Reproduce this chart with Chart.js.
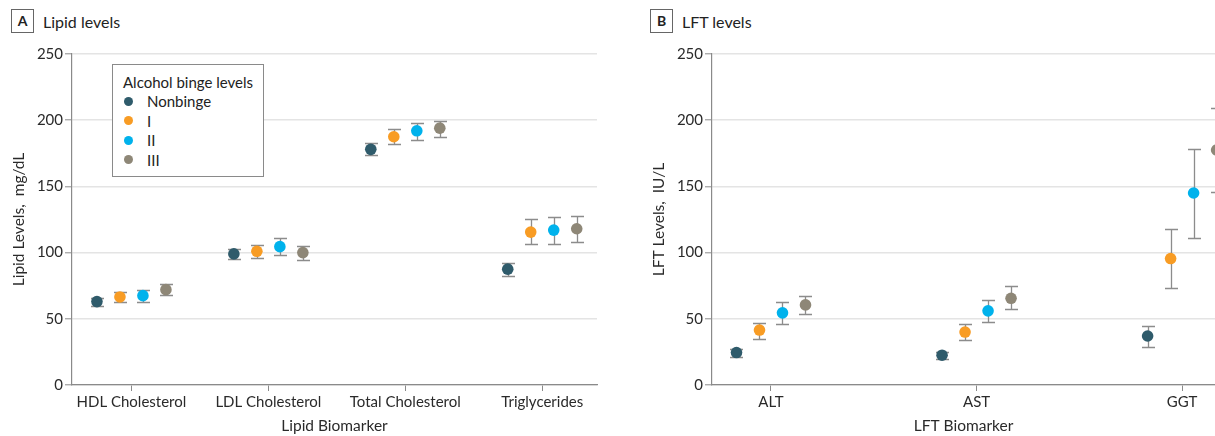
<!DOCTYPE html>
<html>
<head>
<meta charset="utf-8">
<script src="https://cdn.jsdelivr.net/npm/chart.js@4/dist/chart.umd.min.js"></script>
<style>
  html, body { margin: 0; padding: 0; background: #fff; }
  body { width: 1215px; height: 436px; position: relative; overflow: hidden; font-family: Lato, "Open Sans", sans-serif; color: #222; }
  .panel { position: absolute; top: 0; height: 436px; }
  .ptitle { position: absolute; top: 9px; height: 24px; display: flex; align-items: center; font-size: 16px; color: #222; }
  .tag { display: inline-block; width: 21px; height: 22px; border: 1px solid #666; font-weight: bold; font-size: 14px; text-align: center; line-height: 22px; margin-right: 9px; }
  .legend { position: absolute; left: 112px; top: 64px; width: 150px; height: 111px; border: 1px solid #8a8a8a; background: #fff; font-size: 15px; color: #222; }
  .legend .row { position: absolute; left: 0; height: 18px; line-height: 18px; white-space: nowrap; }
  .legend .dot { position: absolute; left: 11px; top: 4.5px; width: 9px; height: 9px; border-radius: 50%; }
  .legend .lab { position: absolute; left: 34px; top: 0; }
</style>
</head>
<body>

<div class="ptitle" style="left:11px"><span class="tag">A</span>Lipid levels</div>
<div class="ptitle" style="left:650px"><span class="tag">B</span>LFT levels</div>

<div class="panel" style="left:0; width:607px;"><canvas id="lipidChart"></canvas></div>
<div class="panel" style="left:640px; width:575px;"><canvas id="lftChart"></canvas></div>

<div class="legend" id="legend"></div>

<script>
// Binge levels and their colours
const levels = ['Nonbinge', 'I', 'II', 'III'];
const levelColors = ['#2f5b6b', '#f89c24', '#00b2ec', '#8e8777'];

// Panel A: lipid biomarkers (mg/dL), mean with lower / upper bounds
const lipidCategories = ['HDL Cholesterol', 'LDL Cholesterol', 'Total Cholesterol', 'Triglycerides'];
const lipidNonbinge      = [63,   99,    178,   87.5];
const lipidNonbingeLower = [60,   95,    174,   82.5];
const lipidNonbingeUpper = [65.5, 102.5, 183,   92.5];
const lipidI             = [66.5, 101,   187.5, 115.5];
const lipidILower        = [62.5, 96,    182,   106.5];
const lipidIUpper        = [70,   106,   193,   125.5];
const lipidII            = [67.5, 104.5, 192,   117];
const lipidIILower       = [62.5, 98.5,  185,   106.5];
const lipidIIUpper       = [71.5, 111,   198,   127];
const lipidIII           = [72,   100,   194,   118];
const lipidIIILower      = [68,   94.5,  187.5, 108];
const lipidIIIUpper      = [76,   105,   199.5, 128];

// Panel B: liver function tests (IU/L)
const lftCategories = ['ALT', 'AST', 'GGT'];
const lftNonbinge      = [24.5, 22.5, 37];
const lftNonbingeLower = [21.5, 20,   29];
const lftNonbingeUpper = [27.5, 25,   44.5];
const lftI             = [41.5, 40,   95.5];
const lftILower        = [35,   34,   73.5];
const lftIUpper        = [47,   46,   117.5];
const lftII            = [54.5, 56,   145];
const lftIILower       = [46,   47.5, 111];
const lftIIUpper       = [62.5, 64.5, 178];
const lftIII           = [60.5, 65.5, 177.5];
const lftIIILower      = [53.5, 57.5, 146];
const lftIIIUpper      = [67,   74.5, 209];

const yTicks = [0, 50, 100, 150, 200, 250];

const DODGE_PX = 23;     // horizontal spacing between binge levels inside a category
const CAP_HALF = 6.5;    // half width of error-bar caps
const FONT = 'Lato, "Open Sans", sans-serif';
const TEXT = '#2a2a2a';
const AXIS = '#8a8a8a';

// legend
const legendEl = document.getElementById('legend');
legendEl.innerHTML =
  '<div class="row" style="top:8px;left:10px">Alcohol binge levels</div>' +
  levels.map((l, k) =>
    `<div class="row" style="top:${27 + k * 19.5}px;width:140px">` +
    `<span class="dot" style="background:${levelColors[k]}"></span><span class="lab">${l}</span></div>`
  ).join('');

// shifts each binge level sideways and draws its interval whiskers
const dodgeErrorPlugin = {
  id: 'dodgeError',
  afterDatasetsUpdate(chart) {
    chart.data.datasets.forEach((ds, k) => {
      chart.getDatasetMeta(k).data.forEach(pt => { pt.x += (k - 1.5) * DODGE_PX; });
    });
  },
  beforeDatasetsDraw(chart) {
    const ctx = chart.ctx, ys = chart.scales.y;
    ctx.save();
    ctx.strokeStyle = '#8c8c8c';
    ctx.lineWidth = 1.3;
    chart.data.datasets.forEach((ds, k) => {
      chart.getDatasetMeta(k).data.forEach((pt, i) => {
        const x = Math.round(pt.x) + 0.5;
        const lo = Math.round(ys.getPixelForValue(ds.lower[i])) + 0.5;
        const hi = Math.round(ys.getPixelForValue(ds.upper[i])) + 0.5;
        ctx.beginPath();
        ctx.moveTo(x, lo); ctx.lineTo(x, hi);
        ctx.moveTo(x - CAP_HALF, lo); ctx.lineTo(x + CAP_HALF, lo);
        ctx.moveTo(x - CAP_HALF, hi); ctx.lineTo(x + CAP_HALF, hi);
        ctx.stroke();
      });
    });
    ctx.restore();
  }
};

function makeDatasets(series) {
  return series.map((s, k) => ({
    label: levels[k],
    data: s.mean.map((v, i) => ({ x: i + 1, y: v })),
    lower: s.lower,
    upper: s.upper,
    backgroundColor: levelColors[k],
    borderColor: levelColors[k],
    borderWidth: 0,
    pointRadius: 5.8,
    pointHoverRadius: 5.8,
    clip: false
  }));
}

function makeChart(id, cats, series, xMin, xMax, xTitle, yTitle, rightPad) {
  return new Chart(document.getElementById(id), {
    type: 'scatter',
    data: { datasets: makeDatasets(series) },
    plugins: [dodgeErrorPlugin],
    options: {
      responsive: true,
      maintainAspectRatio: false,
      animation: false,
      events: [],
      layout: { autoPadding: false, padding: { top: 54, right: rightPad, bottom: 0, left: 0 } },
      plugins: { legend: { display: false }, tooltip: { enabled: false } },
      scales: {
        x: {
          type: 'linear',
          min: xMin,
          max: xMax,
          afterBuildTicks: s => { s.ticks = cats.map((c, i) => ({ value: i + 1 })); },
          afterFit: s => { s.height = 51; s.paddingLeft = 0; s.paddingRight = 0; },
          ticks: {
            autoSkip: false, maxRotation: 0, padding: 2,
            color: TEXT, font: { family: FONT, size: 15 },
            callback: (v, i) => cats[i]
          },
          grid: { drawOnChartArea: false, drawTicks: true, tickLength: 6, tickColor: AXIS, tickWidth: 1 },
          border: { color: AXIS, width: 1.2 },
          title: { display: true, text: xTitle, color: TEXT, font: { family: FONT, size: 15.5 }, padding: { top: 0, bottom: 1 } }
        },
        y: {
          min: 0,
          max: 250,
          afterBuildTicks: s => { s.ticks = yTicks.map(v => ({ value: v })); },
          afterFit: s => { s.width = 72; s.paddingTop = 0; s.paddingBottom = 0; },
          ticks: { padding: 2, color: TEXT, font: { family: FONT, size: 15 } },
          grid: { color: '#e4e4e4', lineWidth: 1.6, tickLength: 7, tickColor: AXIS, tickWidth: 1 },
          border: { color: AXIS, width: 1.2 },
          title: { display: true, text: yTitle, color: TEXT, font: { family: FONT, size: 15.5 }, padding: { top: 10, bottom: 0 } }
        }
      }
    }
  });
}

makeChart('lipidChart', lipidCategories, [
  { mean: lipidNonbinge, lower: lipidNonbingeLower, upper: lipidNonbingeUpper },
  { mean: lipidI,        lower: lipidILower,        upper: lipidIUpper },
  { mean: lipidII,       lower: lipidIILower,       upper: lipidIIUpper },
  { mean: lipidIII,      lower: lipidIIILower,      upper: lipidIIIUpper }
], 0.566, 4.4, 'Lipid Biomarker', 'Lipid Levels,  mg/dL', 10);

makeChart('lftChart', lftCategories, [
  { mean: lftNonbinge, lower: lftNonbingeLower, upper: lftNonbingeUpper },
  { mean: lftI,        lower: lftILower,        upper: lftIUpper },
  { mean: lftII,       lower: lftIILower,       upper: lftIIUpper },
  { mean: lftIII,      lower: lftIIILower,      upper: lftIIIUpper }
], 0.713, 3.16, 'LFT Biomarker', 'LFT Levels,  IU/L', 0);
</script>
</body>
</html>
